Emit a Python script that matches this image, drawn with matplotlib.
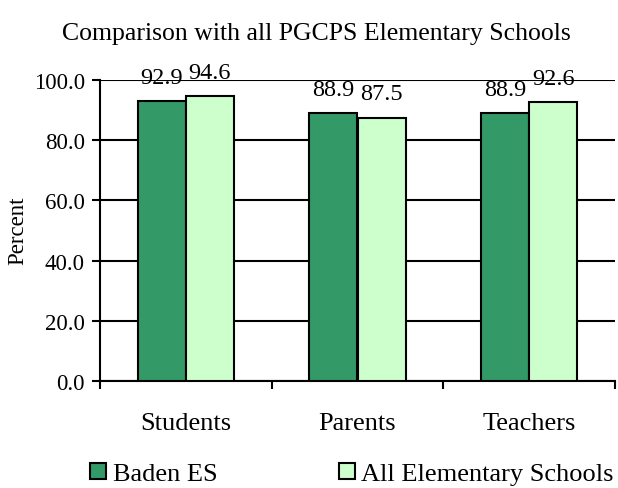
import matplotlib
matplotlib.use("Agg")
import matplotlib.pyplot as plt
import numpy as np
from matplotlib.patches import Patch

categories = ["Students", "Parents", "Teachers"]
baden = [92.9, 88.9, 88.9]
all_es = [94.6, 87.5, 92.6]
series_names = ["Baden ES", "All Elementary Schools"]
yticks = [0, 20, 40, 60, 80, 100]

plt.rcParams['font.family'] = ['Liberation Serif', 'DejaVu Serif']
fig = plt.figure(figsize=(6.18, 4.89), dpi=100)
ax = fig.add_axes([100/618, 1-382/489, 515/618, 301/489])

x = np.arange(len(categories))
w = 0.28
dark = "#339966"
light = "#CCFFCC"
b1 = ax.bar(x - w/2, baden, w, color=dark, edgecolor="black", linewidth=1.5, zorder=3)
b2 = ax.bar(x + w/2, all_es, w, color=light, edgecolor="black", linewidth=1.5, zorder=3)

for bars, vals in ((b1, baden), (b2, all_es)):
    for r, v in zip(bars, vals):
        ax.annotate(f"{v:.1f}", (r.get_x() + r.get_width()/2, v), xytext=(0, 13.5),
                    textcoords="offset points", ha="center", va="baseline", fontsize=17.5)

ax.set_xlim(-0.5, 2.5)
ax.set_ylim(0, 100)
ax.set_yticks(yticks)
ax.set_yticklabels([f"{t:.1f}" for t in yticks], fontsize=16.5)
ax.yaxis.grid(True, color="black", linewidth=1.5, zorder=0)
ax.set_axisbelow(True)
ax.set_xticks([-0.5, 0.5, 1.5, 2.5])
ax.set_xticklabels([])
ax.set_xticks(x, minor=True)
ax.set_xticklabels(categories, minor=True, fontsize=19)
ax.tick_params(axis="x", which="minor", length=0, pad=22)
ax.tick_params(axis="x", which="major", length=6, width=1.5, direction="out")
ax.tick_params(axis="y", length=6, width=1.5, direction="out", pad=5)
for s in ("top", "right"):
    ax.spines[s].set_visible(False)
for s in ("left", "bottom"):
    ax.spines[s].set_linewidth(1.5)

fig.text(18/618, 1-231/489, "Percent", rotation=90, ha="center", va="center", fontsize=16.5)

fig.text(316/618, 1-34/489, "Comparison with all PGCPS Elementary Schools",
         ha="center", va="center", fontsize=18.5)

handles = [Patch(facecolor=dark, edgecolor="black", linewidth=1.5),
           Patch(facecolor=light, edgecolor="black", linewidth=1.5)]
fig.legend(handles, series_names, loc="center", bbox_to_anchor=(352/618, 1-475/489),
           ncol=2, frameon=False, fontsize=19, handlelength=0.6, handleheight=0.6,
           handletextpad=0.25, columnspacing=4.6, borderpad=0, borderaxespad=0)

fig.savefig("out.png", dpi=100)
